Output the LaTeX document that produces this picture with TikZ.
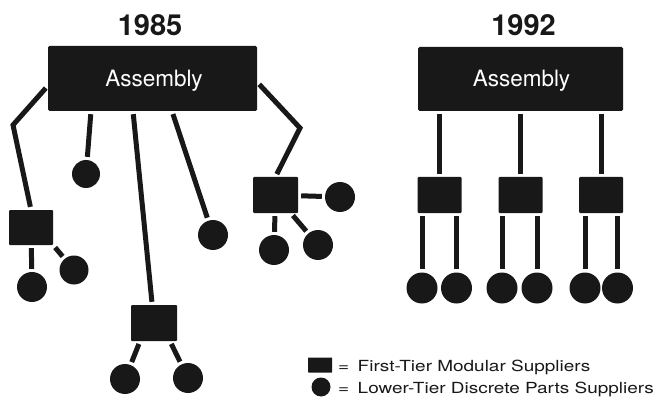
\documentclass[tikz,border=0pt]{standalone}
\usepackage{fontspec}
\setmainfont{TeX Gyre Heros}
\usetikzlibrary{calc}
\pgfdeclarelayer{bg}
\pgfsetlayers{bg,main}
\definecolor{ink}{RGB}{24,24,24}
\begin{document}
\begin{tikzpicture}[x=1pt,y=-1pt,
  title/.style={font=\fontsize{29}{30}\selectfont\bfseries, text=ink, inner sep=0},
  asm/.style={fill=ink, rounded corners=1.5pt, inner sep=0},
  asmtext/.style={font=\fontsize{22.5}{24}\selectfont, text=white, inner sep=0},
  tier/.style={fill=ink, minimum width=45pt, minimum height=36pt, inner sep=0, rounded corners=1pt},
  part/.style={circle, fill=ink, minimum size=30pt, inner sep=0},
  link/.style={draw=ink, line width=5pt, shorten <=3pt, shorten >=3pt},
  legtext/.style={font=\fontsize{15.3}{16}\selectfont, text=ink, inner sep=0, anchor=base west}]
\useasboundingbox (0,0) rectangle (659,401);

% titles
\node[title] (t85) at (150,25) {1985};
\node[title] (t92) at (523.5,25) {1992};

% assembly boxes
\node[asm, minimum width=209pt, minimum height=65pt] (a85) at (152.5,78.5) {};
\node[asmtext, anchor=base] (a85l) at (154,87) {Assembly};
\node[asm, minimum width=205pt, minimum height=64pt] (a92) at (520.5,79) {};
\node[asmtext, anchor=base] (a92l) at (521.5,87) {Assembly};

% 1985 first tier
\node[tier, minimum width=44pt, minimum height=35pt] (s1) at (31,227.5) {};
\node[tier, minimum width=46pt] (s3) at (154,323) {};
\node[tier] (s5) at (275.5,195) {};

% 1985 parts
\node[part, minimum size=28pt] (p2) at (86,174) {};
\node[part] (p4) at (213,235) {};
\node[part] (p1a) at (32,287) {};
\node[part, minimum size=29pt] (p1b) at (74,270) {};
\node[part] (p3a) at (125,379) {};
\node[part] (p3b) at (188,378) {};
\node[part] (p5r) at (340,197) {};
\node[part] (p5b) at (274,250) {};
\node[part] (p5d) at (318,245) {};

\coordinate (k1) at (13,125);
\coordinate (k5) at (300,128);

% 1992 first tier
\node[tier, minimum width=44pt] (q1) at (439.5,195) {};
\node[tier, minimum width=44pt] (q2) at (520.5,195) {};
\node[tier, minimum width=44pt] (q3) at (601,195) {};

% 1992 parts
\node[part, minimum size=31pt] (r1) at (422,288) {};
\node[part, minimum size=31pt] (r2) at (456.5,288) {};
\node[part, minimum size=31pt] (r3) at (502,288) {};
\node[part, minimum size=31pt] (r4) at (537,288) {};
\node[part, minimum size=31pt] (r5) at (585,288) {};
\node[part, minimum size=31pt] (r6) at (617.5,288) {};

% legend
\node[tier, minimum width=24pt, minimum height=15pt, rounded corners=0.5pt] (lsq) at (320,365) {};
\node[part, minimum size=19pt] (lci) at (321,387) {};
\node[legtext] (l1) at (338,371) {\scalebox{1.24}[1]{= \,First-Tier Modular Suppliers}};
\node[legtext] (l2) at (338,393) {\scalebox{1.24}[1]{= \,Lower-Tier Discrete Parts Suppliers}};

\begin{pgfonlayer}{bg}
% 1985 links
\draw[link] (a85.184) -- (k1) -- (s1.north);
\draw[link] ([xshift=-61.5pt]a85.south) -- (p2);
\draw[link] ([xshift=-19.5pt]a85.south) -- (s3);
\draw[link] ([xshift=19.5pt]a85.south) -- (p4);
\draw[link] (a85.358) -- (k5) -- (s5.north);
\draw[link] (s1) -- (p1a);
\draw[link] (s1.south east) -- (p1b);
\draw[link] ([xshift=-14pt]s3.south) -- (p3a);
\draw[link] ([xshift=16pt]s3.south) -- (p3b);
\draw[link] (s5) -- (p5r);
\draw[link] (s5) -- (p5b);
\draw[link] (s5) -- (p5d);
% 1992 links
\draw[link] (q1 |- a92.south) -- (q1.north);
\draw[link] (q2 |- a92.south) -- (q2.north);
\draw[link] (q3 |- a92.south) -- (q3.north);
\draw[link] (r1 |- q1.south) -- (r1.north);
\draw[link] (r2 |- q1.south) -- (r2.north);
\draw[link] (r3 |- q2.south) -- (r3.north);
\draw[link] (r4 |- q2.south) -- (r4.north);
\draw[link] (r5 |- q3.south) -- (r5.north);
\draw[link] (r6 |- q3.south) -- (r6.north);
\end{pgfonlayer}
\end{tikzpicture}
\end{document}
